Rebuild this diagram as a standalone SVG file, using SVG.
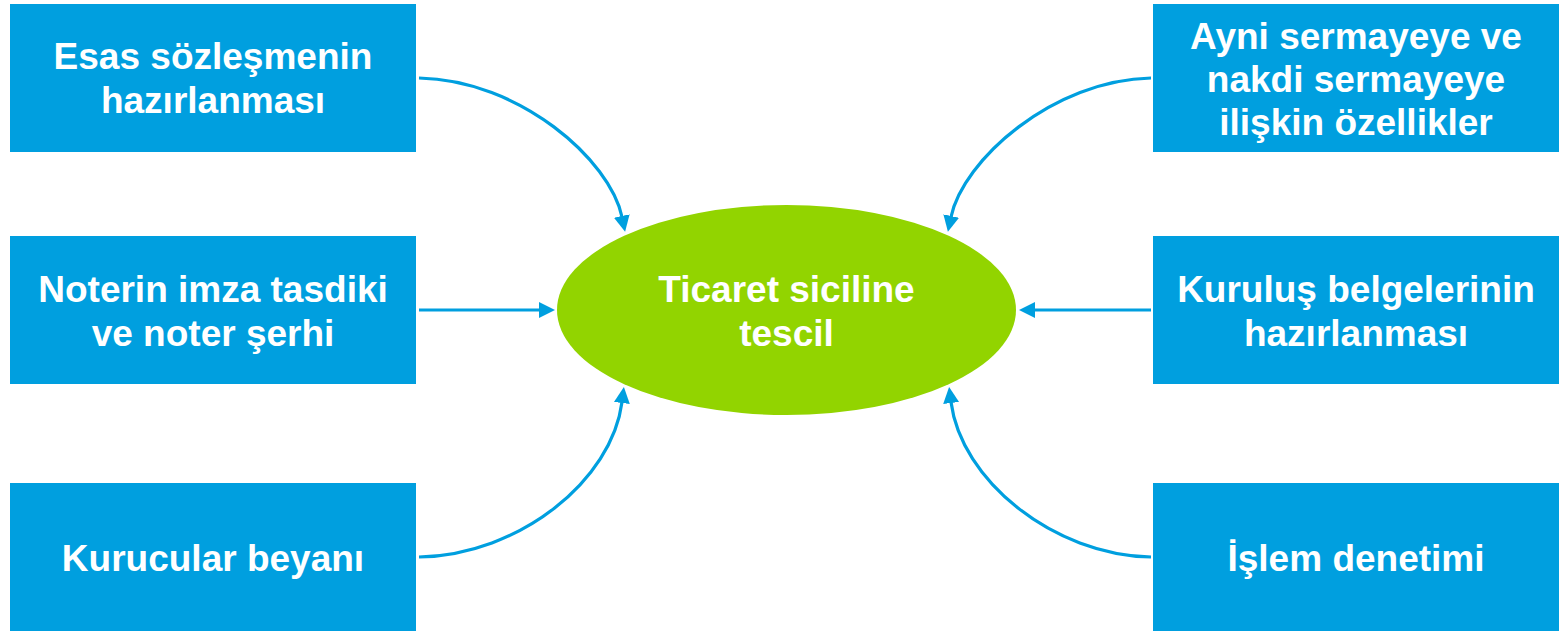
<svg xmlns="http://www.w3.org/2000/svg" width="1559" height="632" viewBox="0 0 1559 632">
  <style>
    .box { fill: #009FDF; }
    .ell { fill: #92D400; }
    .lbl { font-family: "Liberation Sans", Arial, sans-serif; font-weight: bold; font-size: 37px; fill: #FFFFFF; text-anchor: middle; }
    .conn { fill: none; stroke: #009FDF; stroke-width: 3.2; marker-end: url(#arrow); }
  </style>
  <defs>
    <marker id="arrow" markerUnits="userSpaceOnUse" markerWidth="18" markerHeight="18" refX="1" refY="9" orient="auto">
      <path d="M0,1 L16,9 L0,17 z" fill="#009FDF"/>
    </marker>
  </defs>
  <rect width="1559" height="632" fill="#FFFFFF"/>

  <g id="n-esas">
    <rect class="box" x="10" y="4" width="406" height="148"/>
    <text class="lbl" x="213" y="69">Esas sözleşmenin</text>
    <text class="lbl" x="213" y="113">hazırlanması</text>
  </g>
  <g id="n-noter">
    <rect class="box" x="10" y="236" width="406" height="148"/>
    <text class="lbl" x="213" y="302">Noterin imza tasdiki</text>
    <text class="lbl" x="213" y="346">ve noter şerhi</text>
  </g>
  <g id="n-kurucular">
    <rect class="box" x="10" y="483" width="406" height="148"/>
    <text class="lbl" x="213" y="571">Kurucular beyanı</text>
  </g>
  <g id="n-ayni">
    <rect class="box" x="1153" y="4" width="406" height="148"/>
    <text class="lbl" x="1356" y="49">Ayni sermayeye ve</text>
    <text class="lbl" x="1356" y="92">nakdi sermayeye</text>
    <text class="lbl" x="1356" y="135">ilişkin özellikler</text>
  </g>
  <g id="n-kurulus">
    <rect class="box" x="1153" y="236" width="406" height="148"/>
    <text class="lbl" x="1356" y="302">Kuruluş belgelerinin</text>
    <text class="lbl" x="1356" y="346">hazırlanması</text>
  </g>
  <g id="n-islem">
    <rect class="box" x="1153" y="483" width="406" height="148"/>
    <text class="lbl" x="1356" y="571">İşlem denetimi</text>
  </g>
  <g id="n-tescil">
    <ellipse class="ell" cx="786.5" cy="310" rx="229.5" ry="105"/>
    <text class="lbl" x="786.5" y="302">Ticaret siciline</text>
    <text class="lbl" x="786.5" y="346">tescil</text>
  </g>

  <g id="connectors">
    <path class="conn" d="M419,78 C520,80 610,160 622,217"/>
    <path class="conn" d="M419,310 L540,310"/>
    <path class="conn" d="M419,557 C520,555 612,480 622,402"/>
    <path class="conn" d="M1151,78 C1053,80 963,160 951,217"/>
    <path class="conn" d="M1151,310 L1034,310"/>
    <path class="conn" d="M1151,557 C1053,555 961,480 951,402"/>
  </g>
</svg>
